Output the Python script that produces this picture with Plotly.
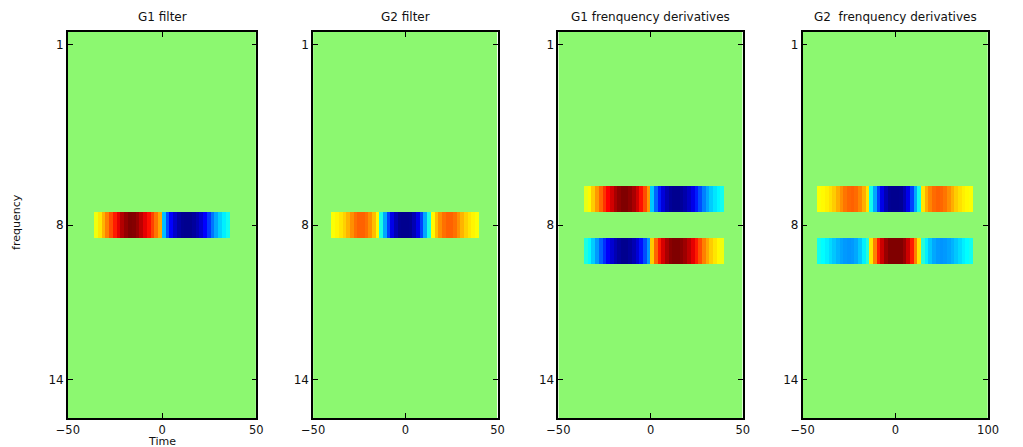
import plotly.graph_objects as go

# ---------------- data ----------------
time = list(range(-49, 50, 2))          # 50 time samples (cell centres)
freqs = list(range(1, 16))              # 15 frequency rows

g1_filter = [0, 0, 0, 0, 0, 0, 0,
             0.22, 0.30, 0.40, 0.50, 0.60, 0.70, 0.80, 0.90, 0.96, 1.00, 0.99, 0.95,
             0.88, 0.80, 0.72, 0.62, 0.52, 0.42,
             -0.38, -0.60, -0.75, -0.87, -0.95, -0.99, -1.00, -1.00, -0.97, -0.92,
             -0.85, -0.75, -0.64, -0.52, -0.42, -0.34, -0.28, -0.22,
             0, 0, 0, 0, 0, 0, 0]

g2_filter = [0, 0, 0, 0, 0,
             0.24, 0.27, 0.30, 0.34, 0.40, 0.47, 0.53, 0.56, 0.56, 0.53, 0.47, 0.38, 0.26,
             -0.20, -0.42, -0.62, -0.80, -0.92, -0.99, -1.00,
             -1.00, -0.99, -0.92, -0.80, -0.62, -0.42, -0.20,
             0.26, 0.38, 0.47, 0.53, 0.56, 0.56, 0.53, 0.47, 0.40, 0.34, 0.30, 0.27, 0.24,
             0, 0, 0, 0, 0]

g1_deriv_upper = [0, 0, 0, 0, 0, 0, 0,
                  0.20, 0.26, 0.35, 0.45, 0.55, 0.65, 0.75, 0.84, 0.92, 0.97, 1.00, 1.00,
                  0.97, 0.92, 0.84, 0.72, 0.60, 0.45,
                  -0.35, -0.55, -0.70, -0.83, -0.92, -0.98, -1.00, -1.00, -0.98, -0.94,
                  -0.88, -0.80, -0.70, -0.60, -0.50, -0.42, -0.35, -0.30, -0.26, -0.22,
                  0, 0, 0, 0, 0]

g1_deriv_lower = [0, 0, 0, 0, 0, 0, 0,
                  -0.20, -0.26, -0.35, -0.45, -0.56, -0.66, -0.76, -0.85, -0.92, -0.97, -1.00, -1.00,
                  -0.97, -0.92, -0.84, -0.72, -0.60, -0.45,
                  0.35, 0.55, 0.70, 0.83, 0.92, 0.98, 1.00, 1.00, 0.98, 0.94,
                  0.88, 0.80, 0.70, 0.60, 0.50, 0.42, 0.35, 0.30, 0.26, 0.22,
                  0, 0, 0, 0, 0]

g2_deriv_upper = [0, 0, 0, 0,
                  0.24, 0.26, 0.28, 0.31, 0.35, 0.41, 0.47, 0.52, 0.55, 0.56, 0.54, 0.49, 0.41, 0.30,
                  -0.22, -0.42, -0.62, -0.80, -0.92, -0.99, -1.00,
                  -1.00, -0.99, -0.92, -0.80, -0.62, -0.42, -0.22,
                  0.30, 0.41, 0.49, 0.54, 0.56, 0.55, 0.52, 0.47, 0.41, 0.35, 0.31, 0.28, 0.26, 0.24,
                  0, 0, 0, 0]

g2_deriv_lower = [0, 0, 0, 0,
                  -0.22, -0.25, -0.28, -0.32, -0.36, -0.40, -0.43, -0.45, -0.46, -0.45, -0.42, -0.36, -0.28, -0.18,
                  0.30, 0.50, 0.70, 0.85, 0.95, 1.00, 1.00,
                  1.00, 1.00, 0.95, 0.85, 0.70, 0.50, 0.30,
                  -0.18, -0.28, -0.36, -0.42, -0.45, -0.46, -0.45, -0.43, -0.40, -0.36, -0.32, -0.28, -0.25, -0.22,
                  0, 0, 0, 0]

titles = ["G1 filter", "G2 filter", "G1 frenquency derivatives", "G2  frenquency derivatives"]
y_ticks = [1, 8, 14]
x_ticks = [-50, 0, 50]
x_ticklabels = [["\u221250", "0", "50"], ["\u221250", "0", "50"],
                ["\u221250", "0", "50"], ["\u221250", "0", "100"]]

# ---------------- build matrices ----------------
def blank():
    return [[0.0] * len(time) for _ in freqs]

def put(mat, freq, profile):
    mat[freqs.index(freq)] = list(profile)
    return mat

z1 = put(blank(), 8, g1_filter)
z2 = put(blank(), 8, g2_filter)
z3 = put(put(blank(), 7, g1_deriv_upper), 9, g1_deriv_lower)
z4 = put(put(blank(), 7, g2_deriv_upper), 9, g2_deriv_lower)

jet = [[0.0, "rgb(0,0,143)"], [0.125, "rgb(0,0,255)"], [0.375, "rgb(0,255,255)"],
       [0.5, "rgb(140,248,112)"], [0.625, "rgb(255,255,0)"], [0.875, "rgb(255,0,0)"],
       [1.0, "rgb(128,0,0)"]]

W, H = 1023, 447
# the paper area is rendered from x=10 to x=1013 px
PX0, PW = 10.0, 1003.0
def fx(px):
    return (px - PX0) / PW

panels_px = [(66, 255), (312, 497), (558, 743), (803, 989)]
top_px, bot_px = 32, 418

fig = go.Figure()
font_family = "DejaVu Sans"
for i, z in enumerate([z1, z2, z3, z4]):
    n = "" if i == 0 else str(i + 1)
    fig.add_trace(go.Heatmap(z=z, x=time, y=freqs, colorscale=jet, zmin=-1, zmax=1,
                             showscale=False, xaxis="x" + n, yaxis="y" + n,
                             hoverinfo="skip"))
    x0, x1 = panels_px[i]
    common = dict(showline=True, linecolor="black", linewidth=1.5, mirror="ticks",
                  ticks="inside", ticklen=5, tickcolor="black", tickwidth=1,
                  showgrid=False, zeroline=False)
    fig.layout["xaxis" + n] = dict(domain=[fx(x0), fx(x1)], range=[-50, 50],
                                   tickvals=x_ticks, ticktext=x_ticklabels[i],
                                   tickfont=dict(family=font_family, size=11.5, color="#111"),
                                   anchor="y" + n, **common)
    fig.layout["yaxis" + n] = dict(domain=[1 - bot_px / H, 1 - top_px / H],
                                   range=[15.5, 0.5], tickvals=y_ticks,
                                   ticktext=[str(v) for v in y_ticks],
                                   tickfont=dict(family=font_family, size=12, color="#111"),
                                   anchor="x" + n, **common)
    fig.add_annotation(text=titles[i], xref="paper", yref="paper",
                       x=fx((x0 + x1) / 2), y=1 - 17 / H, xanchor="center", yanchor="middle",
                       showarrow=False, font=dict(family=font_family, size=12, color="#111"))

fig.add_annotation(text="frequency", xref="paper", yref="paper", x=fx(15), y=1 - 222 / H,
                   textangle=-90, showarrow=False, xanchor="center", yanchor="middle",
                   font=dict(family=font_family, size=11, color="#111"))
fig.add_annotation(text="Time", xref="paper", yref="paper", x=fx(160), y=0,
                   showarrow=False, xanchor="center", yanchor="bottom", yshift=-2,
                   borderpad=0,
                   font=dict(family=font_family, size=11, color="#111"))

fig.update_layout(width=W, height=H, margin=dict(l=0, r=0, t=0, b=0),
                  paper_bgcolor="white", plot_bgcolor="white", showlegend=False)

fig.write_html("out.html", config={"displayModeBar": False},
               post_script="document.body.style.margin='0';document.body.style.overflow='hidden';")
